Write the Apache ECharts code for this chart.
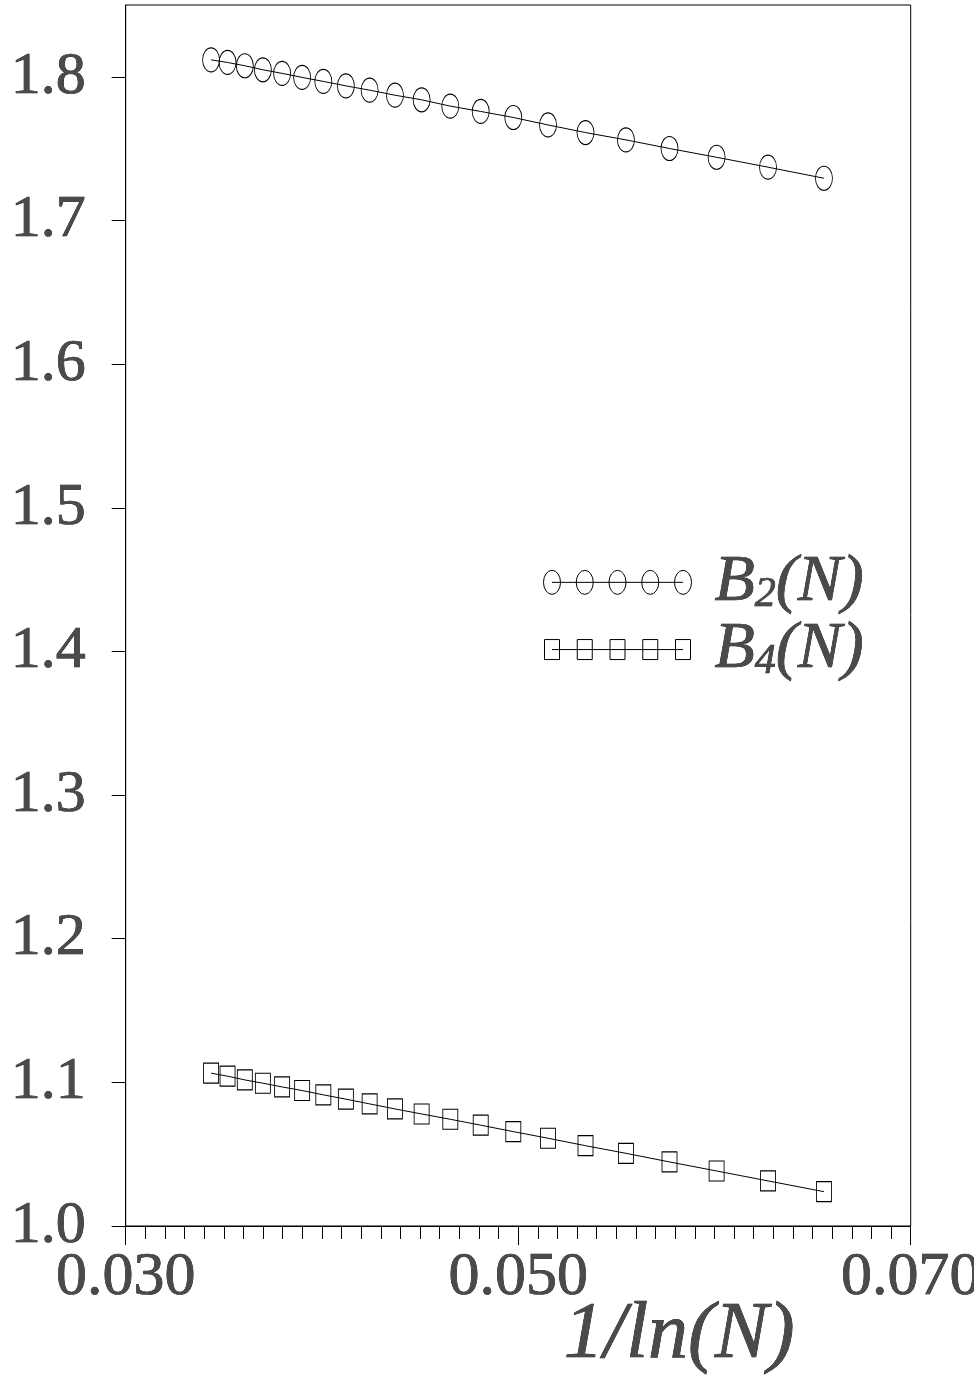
<!DOCTYPE html>
<html><head><meta charset="utf-8">
<style>html,body{margin:0;padding:0;background:#fff}#c{width:974px;height:1384px}</style>
<script src="https://cdn.jsdelivr.net/npm/echarts@6/dist/echarts.min.js"></script>
</head><body><div id="c"></div>
<script>
// x = 1/ln(N)
const invLnN = [0.03435, 0.03519, 0.03607, 0.03699, 0.03797, 0.03899, 0.04007, 0.04122, 0.04243, 0.04372, 0.04508, 0.04654, 0.04809, 0.04975, 0.05152, 0.05343, 0.05549, 0.05771, 0.06011, 0.06273, 0.06558];
const b2 = [1.8118, 1.8100, 1.8077, 1.8049, 1.8024, 1.7996, 1.7968, 1.7937, 1.7907, 1.7872, 1.7840, 1.7796, 1.7759, 1.7717, 1.7665, 1.7612, 1.7561, 1.7501, 1.7440, 1.7371, 1.7294];
const b4 = [1.1064, 1.1043, 1.1017, 1.0994, 1.0968, 1.0943, 1.0913, 1.0883, 1.0850, 1.0815, 1.0780, 1.0743, 1.0702, 1.0657, 1.0611, 1.0559, 1.0506, 1.0446, 1.0383, 1.0314, 1.0239];
const yTicks = [1.0, 1.1, 1.2, 1.3, 1.4, 1.5, 1.6, 1.7, 1.8];
const xMajorTicks = [0.030, 0.050, 0.070];
const xTickLabels = ['0.030', '0.050', '0.070'];
const seriesNames = ['B2', 'B4'];
const subscripts = ['2', '4'];
const xAxisTitle = '1/ln(N)';

const textFill = '#4a4a4a';
const textEdge = '#000';
const serif = '"Times New Roman", "Liberation Serif", Tinos, serif';

function ellipse(cx, cy, rx, ry) {
  return 'M' + (cx - rx) + ',' + cy + ' A' + rx + ',' + ry + ' 0 1,0 ' + (cx + rx) + ',' + cy +
         ' A' + rx + ',' + ry + ' 0 1,0 ' + (cx - rx) + ',' + cy + ' Z ';
}
function rectP(cx, cy, w, h) {
  const x0 = cx - w / 2, y0 = cy - h / 2;
  return 'M' + x0 + ',' + y0 + ' L' + (x0 + w) + ',' + y0 + ' L' + (x0 + w) + ',' + (y0 + h) + ' L' + x0 + ',' + (y0 + h) + ' Z ';
}
const step = 32.75;
let icon1 = 'path://M0,0 M148,24 M8.5,12 L139.5,12 ';
let icon2 = 'path://M0,0 M148,24 M8.5,12 L139.5,12 ';
for (let i = 0; i < 5; i++) {
  icon1 += ellipse(8.5 + step * i, 12, 8.5, 12);
  icon2 += rectP(8.5 + step * i, 12, 15, 20);
}
const ellipseSymbol = 'path://' + ellipse(8.5, 12, 8.5, 12);

const chart = echarts.init(document.getElementById('c'), null, {renderer: 'canvas'});
const hollow = {color: textFill, textBorderColor: textEdge, textBorderWidth: 0.7};

chart.setOption({
  animation: false,
  backgroundColor: '#fff',
  grid: {left: 125.7, right: 63.3, top: 5, bottom: 158, show: true, borderColor: '#000', borderWidth: 1,
         backgroundColor: 'transparent', containLabel: false, outerBoundsMode: 'none'},
  xAxis: [{
    type: 'value', min: 0.03, max: 0.07, interval: 0.001,
    axisLine: {show: true, lineStyle: {color: '#000', width: 1}},
    axisTick: {show: true, length: 13, lineStyle: {color: '#000', width: 1}},
    splitLine: {show: false},
    axisLabel: Object.assign({
      customValues: xMajorTicks,
      formatter: function (v) { const i = xMajorTicks.findIndex(t => Math.abs(t - v) < 1e-9); return i >= 0 ? xTickLabels[i] : ''; },
      fontFamily: serif, fontSize: 62, margin: 21
    }, hollow),
    name: xAxisTitle, nameLocation: 'middle', nameGap: 70, nameMoveOverlap: false,
    nameTextStyle: Object.assign({fontFamily: serif, fontStyle: 'italic', fontSize: 80, padding: [0, 0, 0, 322]}, hollow)
  }, {
    type: 'value', min: 0.03, max: 0.07, interval: 0.01, position: 'bottom',
    axisLine: {show: false},
    axisTick: {show: true, length: 19, customValues: xMajorTicks, lineStyle: {color: '#000', width: 1}},
    axisLabel: {show: false}, splitLine: {show: false}
  }],
  yAxis: {
    type: 'value', min: 1.0, max: 1.85, interval: 0.1,
    axisLine: {show: true, lineStyle: {color: '#000', width: 1}},
    axisTick: {show: true, length: 14, customValues: yTicks, lineStyle: {color: '#000', width: 1}},
    splitLine: {show: false},
    axisLabel: Object.assign({
      customValues: yTicks, formatter: v => v.toFixed(1),
      fontFamily: serif, fontSize: 60, margin: 40
    }, hollow)
  },
  legend: {
    orient: 'vertical', left: 543, top: 549, padding: 0, itemGap: 0,
    itemWidth: 148, itemHeight: 24, symbolKeepAspect: false, selectedMode: false,
    data: [
      {name: seriesNames[0], icon: icon1},
      {name: seriesNames[1], icon: icon2}
    ],
    itemStyle: {color: 'rgba(0,0,0,0)', borderColor: '#000', borderWidth: 1},
    formatter: function (name) {
      const i = seriesNames.indexOf(name);
      return '{p| }{a|B}{s|' + subscripts[i] + '}{a|(N)}';
    },
    textStyle: {
      rich: {
        p: {width: 18, fontSize: 20, lineHeight: 67},
        a: Object.assign({fontFamily: serif, fontStyle: 'italic', fontSize: 66, lineHeight: 67}, hollow),
        s: Object.assign({fontFamily: serif, fontStyle: 'italic', fontSize: 42, lineHeight: 36, verticalAlign: 'bottom'}, hollow)
      }
    }
  },
  series: [{
    name: seriesNames[0], type: 'line', xAxisIndex: 0,
    data: invLnN.map((x, i) => [x, b2[i]]),
    symbol: ellipseSymbol, symbolSize: [17, 24], showAllSymbol: true,
    lineStyle: {color: '#000', width: 1},
    itemStyle: {color: 'rgba(0,0,0,0)', borderColor: '#000', borderWidth: 1},
    emphasis: {disabled: true}, z: 3
  }, {
    name: seriesNames[1], type: 'line', xAxisIndex: 0,
    data: invLnN.map((x, i) => [x, b4[i]]),
    symbol: 'rect', symbolSize: [15, 20], showAllSymbol: true,
    lineStyle: {color: '#000', width: 1},
    itemStyle: {color: 'rgba(0,0,0,0)', borderColor: '#000', borderWidth: 1},
    emphasis: {disabled: true}, z: 3
  }]
});
</script></body></html>
